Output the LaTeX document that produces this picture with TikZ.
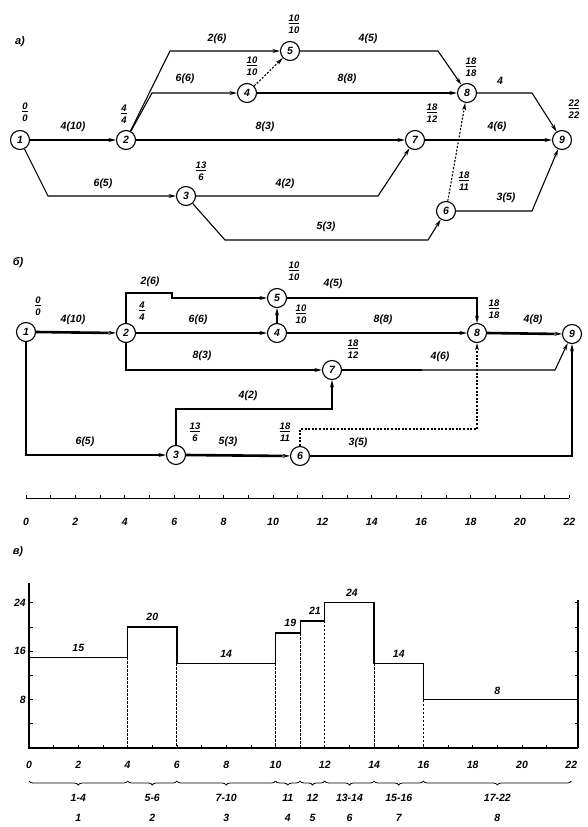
\documentclass[tikz,border=0pt]{standalone}
\usepackage{fontspec}
\setmainfont{Liberation Sans}
\usetikzlibrary{arrows.meta,decorations.pathreplacing}
\newcommand\evl[2]{\underline{#1}\\[0pt]#2}
\newcommand\pcx[1]{29+24.65*#1}
\newcommand\pcy[1]{748-6.05*#1}
\newcommand\pbx[1]{26+24.7*#1}
\begin{document}
\begin{tikzpicture}[x=1pt,y=-1pt,
  ev/.style={circle,draw,line width=1.1pt,minimum size=19pt,inner sep=0pt,font=\itshape\bfseries\fontsize{10.5}{11}\selectfont,fill=white},
  lab/.style={font=\itshape\bfseries\fontsize{10.5}{11}\selectfont,inner sep=1pt},
  elab/.style={font=\itshape\bfseries\fontsize{9.5}{11.5}\selectfont,align=center,inner sep=0pt},
  ttl/.style={font=\itshape\bfseries\fontsize{11}{12}\selectfont,inner sep=0pt},
  arr/.style={line width=1.1pt,-{Stealth[length=7.5pt,width=4pt]}},
  dum/.style={arr,dash pattern=on 2pt off 1.6pt},
  bar/.style={line width=2.6pt},
  barh/.style={bar,shorten >=7.5pt},
  dline/.style={line width=0.9pt,dash pattern=on 2.5pt off 1.5pt}]
\useasboundingbox (0,0) rectangle (587,827);

% ================= panel a =================
\node[ttl] (ta) at (20,42) {а)};
\node[ev] (a1) at (20,140) {1};
\node[ev] (a2) at (126,140) {2};
\node[ev] (a3) at (186,196) {3};
\node[ev] (a4) at (247,93) {4};
\node[ev] (a5) at (290,51) {5};
\node[ev] (a6) at (446,211) {6};
\node[ev] (a7) at (415,140) {7};
\node[ev] (a8) at (467,93) {8};
\node[ev] (a9) at (562,140) {9};

\draw[arr] (a1) -- (a2);
\draw[arr] (a2) -- (170,51) -- (a5);
\draw[arr] (a2) -- (152,93) -- (a4);
\draw[dum] (a4) -- (a5);
\draw[arr] (a2) -- (a7);
\draw[arr] (a4) -- (a8);
\draw[arr] (a5) -- (438,51) -- (a8);
\draw[arr] (a8) -- (532,93) -- (a9);
\draw[arr] (a7) -- (a9);
\draw[arr] (a1) -- (48,196) -- (a3);
\draw[arr] (a3) -- (378,196) -- (a7);
\draw[arr] (a3) -- (225,240) -- (428,240) -- (a6);
\draw[dum] (a6) -- (a8);
\draw[arr] (a6) -- (532,211) -- (a9);

\node[lab] (la12) at (73,127) {4(10)};
\node[lab] (la25) at (217,39) {2(6)};
\node[lab] (la24) at (185,79) {6(6)};
\node[lab] (la27) at (265,127) {8(3)};
\node[lab] (la48) at (347,79) {8(8)};
\node[lab] (la58) at (368,39) {4(5)};
\node[lab] (la89) at (500,81) {4};
\node[lab] (la79) at (497,127) {4(6)};
\node[lab] (la13) at (103,184) {6(5)};
\node[lab] (la37) at (285,184) {4(2)};
\node[lab] (la36) at (326,227) {5(3)};
\node[lab] (la69) at (506,198) {3(5)};

\node[elab] (ea1) at (25,112) {\evl{0}{0}};
\node[elab] (ea2) at (124,114) {\evl{4}{4}};
\node[elab] (ea4) at (252,66) {\evl{10}{10}};
\node[elab] (ea5) at (294,24) {\evl{10}{10}};
\node[elab] (ea8) at (471,67) {\evl{18}{18}};
\node[elab] (ea9) at (574,109) {\evl{22}{22}};
\node[elab] (ea7) at (432,113) {\evl{18}{12}};
\node[elab] (ea3) at (201,171) {\evl{13}{6}};
\node[elab] (ea6) at (464,181) {\evl{18}{11}};

% ================= panel b =================
\node[ttl] (tb) at (18,263) {б)};
\node[ev] (b1) at (26,332) {1};
\node[ev] (b2) at (126,333) {2};
\node[ev] (b4) at (277,333) {4};
\node[ev] (b5) at (277,298) {5};
\node[ev] (b7) at (332,370) {7};
\node[ev] (b8) at (477,333) {8};
\node[ev] (b9) at (572,334) {9};
\node[ev] (b3) at (176,455) {3};
\node[ev] (b6) at (300,456) {6};

\draw[arr] (b1) -- (b2);
\draw[barh] (b1.east) -- (b2.west);
\draw[arr] (b2.north) |- (172,293) |- (b5);
\draw[bar] (126,293) -- (172,293);
\draw[arr] (b2) -- (b4);
\draw[barh] (b2.east) -- (b4.west);
\draw[arr] (b4) -- (b5);
\draw[arr] (b2.south) |- (b7);
\draw[barh] (126,370) -- (b7.west);
\draw[arr] (b5) -| (b8);
\draw[bar] (b5.east) -- (372,298);
\draw[arr] (b4) -- (b8);
\draw[barh] (b4.east) -- (b8.west);
\draw[arr] (b8) -- (b9);
\draw[barh] (b8.east) -- (b9.west);
\draw[arr] (b7) -- (555,370) -- (b9);
\draw[bar] (b7.east) -- (422,370);
\draw[arr] (b1) |- (b3);
\draw[barh] (26,455) -- (b3.west);
\draw[arr] (b3) |- (332,409) -- (b7);
\draw[bar] (176,409) -- (276,409);
\draw[arr] (b3) -- (b6);
\draw[barh] (b3.east) -- (b6.west);
\draw[arr] (b6) -| (b9);
\draw[bar] (b6.east) -- (372,456);
\draw[dum] (b6) |- (477,429) -- (b8);

\node[lab] (lb12) at (73,320) {4(10)};
\node[lab] (lb25) at (150,282) {2(6)};
\node[lab] (lb24) at (198,320) {6(6)};
\node[lab] (lb27) at (202,356) {8(3)};
\node[lab] (lb58) at (333,284) {4(5)};
\node[lab] (lb48) at (383,320) {8(8)};
\node[lab] (lb89) at (533,320) {4(8)};
\node[lab] (lb79) at (440,357) {4(6)};
\node[lab] (lb13) at (85,442) {6(5)};
\node[lab] (lb37) at (248,396) {4(2)};
\node[lab] (lb36) at (228,442) {5(3)};
\node[lab] (lb69) at (358,443) {3(5)};

\node[elab] (eb1) at (38,306) {\evl{0}{0}};
\node[elab] (eb2) at (142,311) {\evl{4}{4}};
\node[elab] (eb5) at (294,271) {\evl{10}{10}};
\node[elab] (eb4) at (301,314) {\evl{10}{10}};
\node[elab] (eb8) at (494,309) {\evl{18}{18}};
\node[elab] (eb7) at (353,349) {\evl{18}{12}};
\node[elab] (eb3) at (195,432) {\evl{13}{6}};
\node[elab] (eb6) at (285,432) {\evl{18}{11}};

% time axis b
\draw[line width=0.8pt] ({\pbx{0}},498) -- ({\pbx{22}},498);
\foreach \t in {0,...,22} \draw[line width=0.7pt] ({\pbx{\t}},498) -- ++(0,-3.5);
\foreach \t in {0,2,...,22} \node[lab] at ({\pbx{\t}},522) {\t};

% ================= panel c =================
\node[ttl] (tc) at (18,552) {в)};
\draw[line width=1.1pt] (29,583) -- (29,748) -- (578,748);
\draw[line width=1.1pt] (578,600) -- (578,748);
\foreach \v in {4,8,...,24} {
  \draw[line width=0.7pt] (29,{\pcy{\v}}) -- ++(3.5,0);
  \draw[line width=0.7pt] (578,{\pcy{\v}}) -- ++(-3.5,0);
}
\foreach \v in {8,16,24} \node[lab,anchor=east] at (27,{\pcy{\v}}) {\v};
\foreach \t in {1,...,21} \draw[line width=0.7pt] ({\pcx{\t}},748) -- ++(0,-3.5);
\foreach \t in {0,2,...,22} \node[lab] at ({\pcx{\t}},765) {\t};

\draw[line width=1.3pt]
  ({\pcx{0}},{\pcy{15}}) -- ({\pcx{4}},{\pcy{15}}) -- ({\pcx{4}},{\pcy{20}})
  -- ({\pcx{6}},{\pcy{20}}) -- ({\pcx{6}},{\pcy{14}}) -- ({\pcx{10}},{\pcy{14}})
  -- ({\pcx{10}},{\pcy{19}}) -- ({\pcx{11}},{\pcy{19}}) -- ({\pcx{11}},{\pcy{21}})
  -- ({\pcx{12}},{\pcy{21}}) -- ({\pcx{12}},{\pcy{24}}) -- ({\pcx{14}},{\pcy{24}})
  -- ({\pcx{14}},{\pcy{14}}) -- ({\pcx{16}},{\pcy{14}}) -- ({\pcx{16}},{\pcy{8}})
  -- (578,{\pcy{8}});
\foreach \t/\v in {4/15,6/14,10/14,11/19,12/21,14/14,16/8}
  \draw[dline] ({\pcx{\t}},{\pcy{\v}}) -- ({\pcx{\t}},748);

\node[lab] at ({\pcx{2}},{\pcy{15}-9}) {15};
\node[lab] at ({\pcx{5}},{\pcy{20}-10}) {20};
\node[lab] at ({\pcx{8}},{\pcy{14}-9}) {14};
\node[lab] at ({\pcx{10.6}},{\pcy{19}-10}) {19};
\node[lab] at ({\pcx{11.6}},{\pcy{21}-10}) {21};
\node[lab] at ({\pcx{13.1}},{\pcy{24}-10}) {24};
\node[lab] at ({\pcx{15}},{\pcy{14}-9}) {14};
\node[lab] at ({\pcx{19}},{\pcy{8}-9}) {8};

\foreach \a/\b/\txt/\n in {0/4/1-4/1,4/6/5-6/2,6/10/7-10/3,10/11/11/4,11/12/12/5,12/14/13-14/6,14/16/15-16/7,16/22/17-22/8} {
  \draw[line width=0.8pt,decorate,decoration={brace,mirror,amplitude=4pt}] ({\pcx{\a}},781) -- ({\pcx{\b}},781);
  \node[lab] at ({(\pcx{\a}+\pcx{\b})/2},798) {\txt};
  \node[lab] at ({(\pcx{\a}+\pcx{\b})/2},818) {\n};
}
\end{tikzpicture}
\end{document}
